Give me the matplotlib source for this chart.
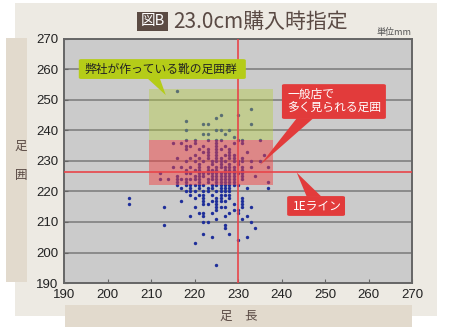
import matplotlib
matplotlib.use("Agg")
import matplotlib.pyplot as plt
from matplotlib.patches import Rectangle, FancyBboxPatch, Polygon

CJK = ["Noto Sans CJK JP", "DejaVu Sans"]

# foot girth (mm) -> foot lengths (mm) of the measured customers
girth_rows = {
    253: [216],
    247: [233],
    245: [226, 230],
    244: [225],
    243: [218],
    242: [222, 223, 233],
    240: [218, 225, 226, 228],
    239: [222, 223, 227],
    238: [229],
    237: [218, 220, 223, 225, 226, 230, 231, 235],
    236: [215, 217, 220, 225, 229, 231],
    235: [218, 219, 222, 225, 227],
    234: [218, 221, 223, 225, 226, 228],
    233: [222, 223, 225, 228, 232],
    232: [220, 223, 225, 227, 228, 229, 236],
    231: [216, 219, 221, 223, 225, 226, 228, 229, 231],
    230: [218, 220, 222, 224, 225, 226, 227, 229, 230, 231, 233, 235],
    229: [221, 224, 226, 228, 230],
    228: [215, 217, 219, 221, 223, 225, 226, 227, 228, 229, 231, 233, 237],
    227: [218, 220, 221, 223, 224, 225, 227, 228, 229, 231],
    226: [212, 218, 219, 221, 222, 223, 224, 225, 226, 227, 228, 229, 230, 231],
    225: [216, 220, 221, 222, 224, 225, 226, 227, 228, 229, 231, 234],
    224: [212, 214, 216, 217, 218, 219, 220, 221, 223, 224, 225, 226, 227, 228, 229, 231],
    223: [216, 218, 221, 223, 225, 226, 227, 228, 229, 237],
    222: [216, 218, 219, 220, 221, 222, 224, 225, 226, 227, 228, 229, 230],
    221: [217, 219, 221, 223, 224, 226, 227, 228, 232, 237],
    220: [218, 219, 220, 222, 223, 225, 226, 227, 228],
    219: [219, 221, 222, 224, 226, 227, 228],
    218: [205, 220, 222, 225, 226, 228, 231],
    217: [217, 222, 224, 225, 226, 227, 231],
    216: [205, 222, 223, 225, 229, 231],
    215: [213, 220, 225, 226, 227, 231, 233],
    214: [225, 229, 230],
    213: [221, 222, 224, 228, 230],
    212: [219, 222, 227, 232],
    211: [225, 231],
    210: [222, 223, 233],
    209: [213, 227],
    208: [227, 234],
    206: [222, 228],
    205: [224, 232],
    204: [230],
    203: [220],
    196: [225],
}
foot_length = [x for g, xs in girth_rows.items() for x in xs]
foot_girth = [g for g, xs in girth_rows.items() for x in xs]

ticks = [190, 200, 210, 220, 230, 240, 250, 260, 270]
our_range = (209.5, 238, 237, 253.5)      # x0, x1, y0, y1
shop_range = (209.5, 238, 222, 237)
line_1e = 226.5
order_length = 230

fig = plt.figure(figsize=(4.52, 3.35), dpi=100)
fig.patch.set_facecolor("white")

W, H = 452, 335
def frect(x, y, w, h, c):
    fig.add_artist(Rectangle((x / W, 1 - (y + h) / H), w / W, h / H,
                             transform=fig.transFigure, fc=c, ec="none", zorder=0))

frect(15, 3, 422, 313, "#edeae3")
frect(6, 38, 21, 244, "#e2dacd")
frect(65, 305, 347, 22, "#e2dacd")

ax = fig.add_axes([64 / W, 1 - 283 / H, 348 / W, 244 / H])
ax.set_facecolor("#cbcbcb")
ax.set_xlim(190, 270)
ax.set_ylim(190, 270)
ax.set_xticks(ticks)
ax.set_yticks(ticks)
ax.tick_params(direction="in", length=3, color="#666666", labelsize=9.5,
               labelcolor="#222222", pad=4)
for lab in ax.get_xticklabels() + ax.get_yticklabels():
    lab.set_fontfamily("Liberation Sans")
for s in ax.spines.values():
    s.set_color("#666666")
    s.set_linewidth(1.4)
ax.set_axisbelow(True)
ax.yaxis.grid(True, color="#7a7a7a", linewidth=1.1)

ax.scatter(foot_length, foot_girth, s=6, color="#1f2f9a", linewidths=0, zorder=2)

ax.add_patch(Rectangle((our_range[0], our_range[2]), our_range[1] - our_range[0],
                       our_range[3] - our_range[2], fc="#b5cf3a", alpha=0.4,
                       ec="none", zorder=3))
ax.add_patch(Rectangle((shop_range[0], shop_range[2]), shop_range[1] - shop_range[0],
                       shop_range[3] - shop_range[2], fc="#f04444", alpha=0.5,
                       ec="none", zorder=3))

ax.axhline(line_1e, color="#e8454a", lw=1.2, zorder=4)
ax.axvline(order_length, color="#e8454a", lw=1.2, zorder=4)


def callout(x0, x1, y0, y1, tri, color, text, tcolor, tx, ty):
    box = FancyBboxPatch((x0, y0), x1 - x0, y1 - y0,
                         boxstyle="round,pad=0,rounding_size=0.6",
                         fc=color, ec="none", zorder=5, clip_on=False,
                         mutation_aspect=0.7)
    ax.add_patch(box)
    ax.add_patch(Polygon(tri, closed=True, fc=color, ec="none", zorder=5, clip_on=False))
    ax.text(tx, ty, text, color=tcolor, fontsize=8.5, family=CJK, va="center",
            ha="left", zorder=6, linespacing=1.15)


callout(193.4, 231.8, 256.9, 263.4,
        [(209.1, 257.2), (212.0, 257.2), (213.4, 251.6)],
        "#b5cc18", "弊社が作っている靴の足囲群", "#222222", 194.6, 260.1)
callout(240.1, 264.0, 243.8, 255.2,
        [(243.5, 244.0), (247.3, 244.0), (235.1, 228.7)],
        "#e23b3b", "一般店で\n多く見られる足囲", "white", 241.3, 249.5)
callout(241.3, 254.6, 212.0, 218.5,
        [(245.8, 218.3), (249.2, 218.3), (243.5, 226.2)],
        "#e23b3b", "1Eライン", "white", 242.7, 215.2)

# title and axis captions
fig.text(152.5 / W, 1 - 21.5 / H, "図B", color="white", fontsize=10.5, family=CJK,
         ha="center", va="center",
         bbox=dict(boxstyle="square,pad=0.2", fc="#5b4b43", ec="none"))
fig.text(173 / W, 1 - 21.5 / H, "23.0cm購入時指定", color="#5a4a44", fontsize=15,
         family=CJK, ha="left", va="center")
fig.text(412 / W, 1 - 32 / H, "単位mm", color="#555555", fontsize=6.5, family=CJK,
         ha="right", va="center")
fig.text(21 / W, 1 - 146 / H, "足", color="#5a4a44", fontsize=9, family=CJK,
         ha="center", va="center")
fig.text(21 / W, 1 - 176 / H, "囲", color="#5a4a44", fontsize=9, family=CJK,
         ha="center", va="center")
fig.text(239 / W, 1 - 316.5 / H, "足　長", color="#5a4a44", fontsize=9, family=CJK,
         ha="center", va="center")

fig.savefig("out.png", dpi=100)
